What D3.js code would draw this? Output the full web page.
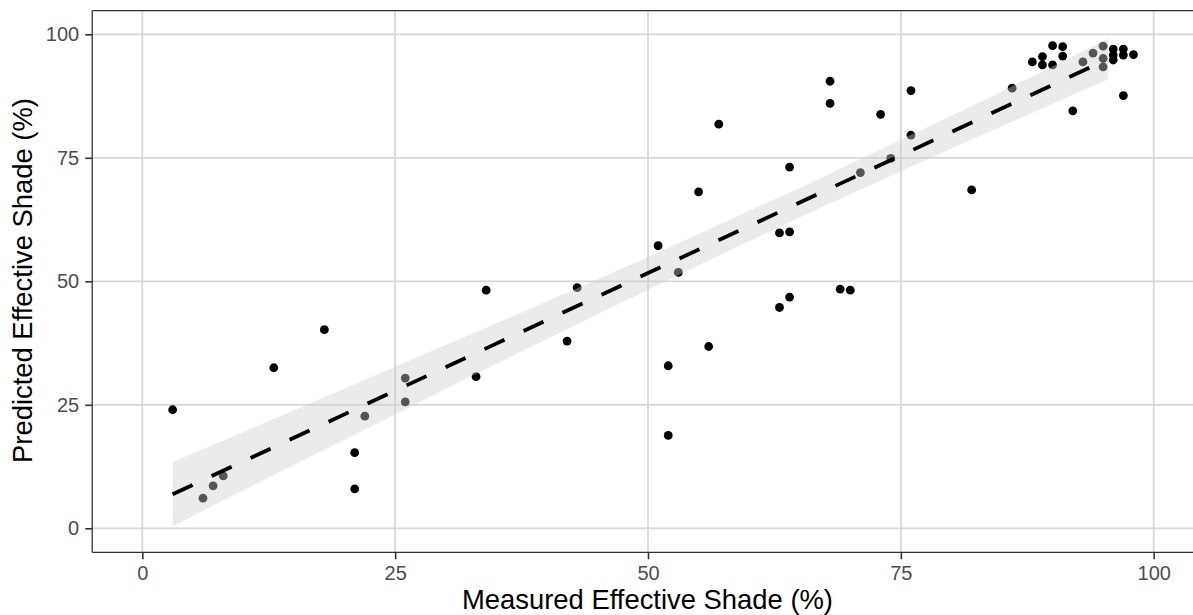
<!DOCTYPE html>
<html>
<head>
<meta charset="utf-8">
<script src="https://cdn.jsdelivr.net/npm/d3@7"></script>
<style>
  html, body { margin: 0; padding: 0; background: #fff; }
  svg { display: block; font-family: "Liberation Sans", Arial, Helvetica, sans-serif; }
</style>
</head>
<body>
<svg id="chart" width="1193" height="615"></svg>
<script>
// ---- data ----
const measured = [3, 6, 7, 8, 13, 18, 21, 21, 22, 26, 26, 33, 34, 42, 43, 51, 52, 52, 53, 55,
  56, 57, 63, 63, 64, 64, 64, 68, 68, 69, 70, 71, 73, 74, 76, 76, 82, 86, 88, 89,
  89, 90, 90, 91, 91, 92, 93, 94, 95, 95, 95, 96, 96, 96, 97, 97, 98, 97];
const predicted = [24.0, 6.1, 8.6, 10.6, 32.5, 40.2, 15.3, 8.0, 22.7, 30.4, 25.6, 30.7, 48.2, 37.9, 48.7, 57.2, 32.9, 18.8, 51.8, 68.1,
  36.8, 81.8, 59.8, 44.7, 60.0, 73.1, 46.8, 90.5, 86.0, 48.4, 48.2, 72.0, 83.8, 74.9, 88.6, 79.6, 68.5, 89.1, 94.4, 95.5,
  93.8, 97.7, 93.8, 97.5, 95.6, 84.5, 94.4, 96.2, 97.6, 95.1, 93.4, 97.0, 95.8, 94.8, 97.0, 95.8, 95.9, 87.6];

// fitted line and its confidence band
const fitX = [3, 95.5];
const fitY = [6.9, 95.0];
const bandX  = [3, 10, 20, 30, 40, 50, 60, 65, 70, 80, 90, 95.5];
const bandLo = [0.4, 7.7, 17.9, 28.2, 38.3, 48.3, 58.1, 62.9, 67.6, 76.9, 85.9, 90.9];
const bandHi = [13.4, 19.5, 28.3, 37.1, 45.9, 54.9, 64.3, 68.9, 73.8, 83.5, 93.5, 99.2];

const xTicks = [0, 25, 50, 75, 100];
const yTicks = [0, 25, 50, 75, 100];
const xTitle = "Measured Effective Shade (%)";
const yTitle = "Predicted Effective Shade (%)";

// ---- layout ----
const svg = d3.select("#chart");
const x = d3.scaleLinear().domain([0, 100]).range([142.3, 1153.7]);
const y = d3.scaleLinear().domain([0, 100]).range([528.3, 34.3]);
const xMin = -4.95, xMax = 105, yMin = -4.86, yMax = 104.8;
const pL = x(xMin), pR = x(xMax), pT = y(yMax), pB = y(yMin);

svg.append("rect").attr("width", 1193).attr("height", 615).attr("fill", "#fff");

svg.append("defs").append("clipPath").attr("id", "panel")
  .append("rect").attr("x", pL).attr("y", pT).attr("width", pR - pL).attr("height", pB - pT);

const panel = svg.append("g").attr("clip-path", "url(#panel)");

// grid
panel.selectAll("line.gx").data(xTicks).join("line")
  .attr("x1", d => x(d)).attr("x2", d => x(d)).attr("y1", pT).attr("y2", pB)
  .attr("stroke", "#d6d6d6").attr("stroke-width", 1.8);
panel.selectAll("line.gy").data(yTicks).join("line")
  .attr("y1", d => y(d)).attr("y2", d => y(d)).attr("x1", pL).attr("x2", pR)
  .attr("stroke", "#d6d6d6").attr("stroke-width", 1.8);

// points
const pts = measured.map((m, i) => ({ m, p: predicted[i] }));
panel.selectAll("circle").data(pts).join("circle")
  .attr("cx", d => x(d.m)).attr("cy", d => y(d.p)).attr("r", 4.4)
  .attr("fill", "#000");

// ribbon
const band = bandX.map((v, i) => ({ x: v, lo: bandLo[i], hi: bandHi[i] }));
panel.append("path").datum(band)
  .attr("d", d3.area().x(d => x(d.x)).y0(d => y(d.lo)).y1(d => y(d.hi)).curve(d3.curveMonotoneX))
  .attr("fill", "rgb(207,207,207)").attr("fill-opacity", 0.41);

// fitted line
const fit = fitX.map((v, i) => ({ x: v, y: fitY[i] }));
panel.append("path").datum(fit)
  .attr("d", d3.line().x(d => x(d.x)).y(d => y(d.y)))
  .attr("fill", "none").attr("stroke", "#000").attr("stroke-width", 3.8)
  .attr("stroke-dasharray", "22,21");

// panel border
const border = svg.append("g").attr("stroke", "#333").attr("fill", "none");
border.append("line").attr("x1", pL).attr("x2", pR).attr("y1", pT).attr("y2", pT).attr("stroke-width", 1.1);
border.append("line").attr("x1", pL).attr("x2", pL).attr("y1", pT).attr("y2", pB).attr("stroke-width", 1.3);
border.append("line").attr("x1", pL).attr("x2", pR).attr("y1", pB).attr("y2", pB).attr("stroke-width", 1.3);

// axes
const xAxis = svg.append("g").attr("transform", `translate(0,${pB})`)
  .call(d3.axisBottom(x).tickValues(xTicks).tickSize(7).tickPadding(7).tickFormat(d3.format("d")));
const yAxis = svg.append("g").attr("transform", `translate(${pL},0)`)
  .call(d3.axisLeft(y).tickValues(yTicks).tickSize(7).tickPadding(6).tickFormat(d3.format("d")));
[xAxis, yAxis].forEach(a => {
  a.select(".domain").remove();
  a.selectAll(".tick line").attr("stroke", "#333").attr("stroke-width", 1.6);
  a.selectAll(".tick text").attr("fill", "#4d4d4d").attr("font-size", 20)
    .attr("font-family", "'Liberation Sans', Arial, sans-serif");
});

// titles
svg.append("text").attr("x", 647.5).attr("y", 609).attr("text-anchor", "middle")
  .attr("font-size", 27.4).attr("fill", "#000").text(xTitle);
svg.append("text").attr("transform", `translate(31.5,280.5) rotate(-90)`).attr("text-anchor", "middle")
  .attr("font-size", 27.4).attr("fill", "#000").text(yTitle);
</script>
</body>
</html>
